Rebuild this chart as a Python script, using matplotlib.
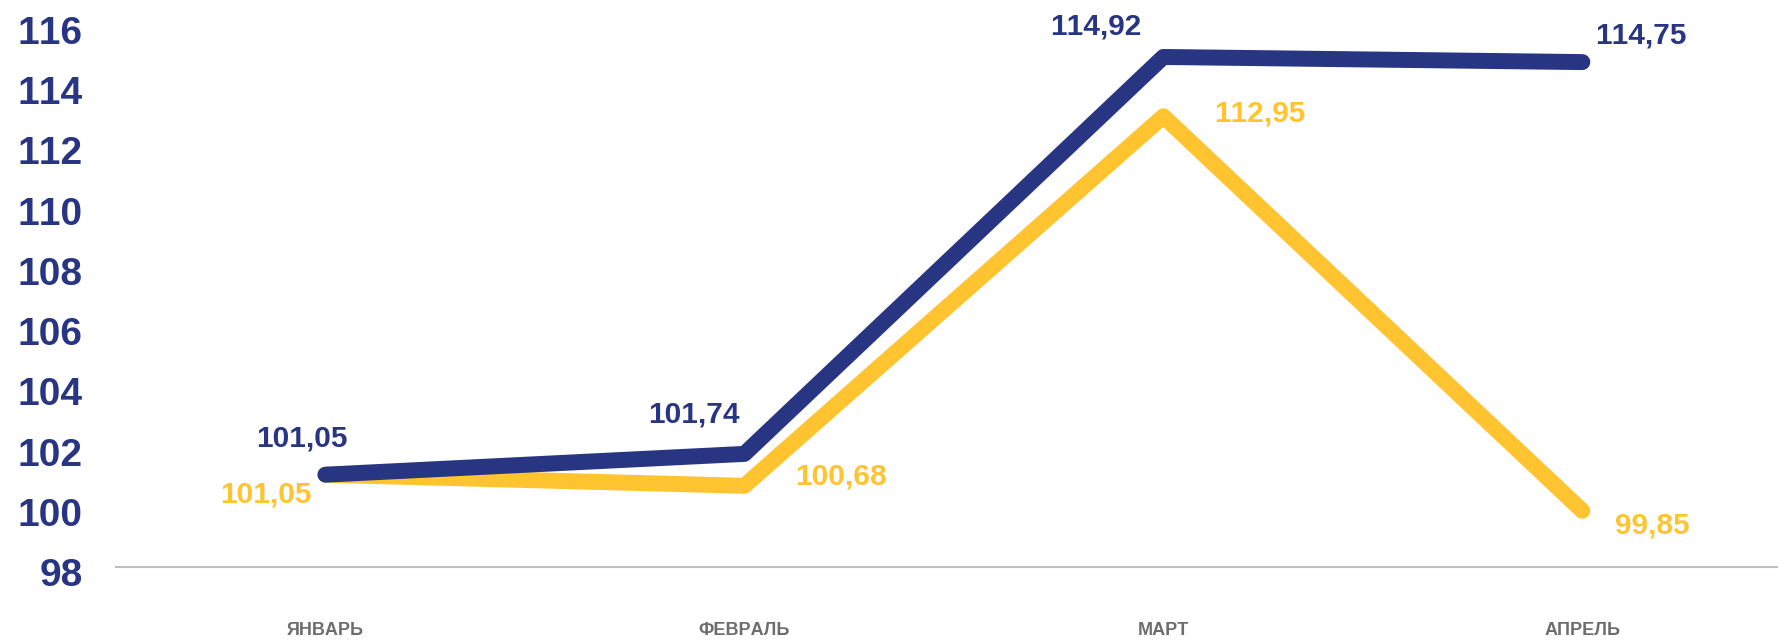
import matplotlib
matplotlib.use("Agg")
import matplotlib.pyplot as plt
import matplotlib.transforms as mtransforms

# the reference text has no kerning between digits
plt.rcParams["text.kerning_factor"] = 6

# Monthly index values, two series
months = ["ЯНВАРЬ", "ФЕВРАЛЬ", "МАРТ", "АПРЕЛЬ"]
blue_vals = [101.05, 101.74, 114.92, 114.75]
yellow_vals = [101.05, 100.68, 112.95, 99.85]
y_ticks = [98, 100, 102, 104, 106, 108, 110, 112, 114, 116]

navy = "#283583"
yellow = "#FFC430"

fig = plt.figure(figsize=(17.78, 6.4), dpi=100)
ax = fig.add_axes([0.0652, 0.1148, 0.9348, 0.847])

x = range(len(months))
ax.plot(x, yellow_vals, color=yellow, lw=11.5, solid_capstyle="round", solid_joinstyle="round")
ax.plot(x, blue_vals, color=navy, lw=11.5, solid_capstyle="round", solid_joinstyle="round")

# label offsets in pixels (dx, dy)
blue_off = [(-24, 36), (-51, 39), (-68, 30), (59, 27)]
yellow_off = [(-60, -20), (97, 9), (96, 3), (70, -15)]

label_font = dict(family="Liberation Sans", fontweight="bold", fontsize=21.5)
for i, v in enumerate(blue_vals):
    ax.annotate(f"{v:.2f}".replace(".", ","), (i, v), xytext=blue_off[i], textcoords="offset pixels",
                ha="center", va="center", color=navy, **label_font)
for i, v in enumerate(yellow_vals):
    ax.annotate(f"{v:.2f}".replace(".", ","), (i, v), xytext=yellow_off[i], textcoords="offset pixels",
                ha="center", va="center", color=yellow, **label_font)

ax.set_xlim(-0.5, 3.467)
ax.set_ylim(98, 116)
ax.set_xticks(list(x))
ax.set_xticklabels(months, fontfamily="Liberation Sans", fontweight="bold", fontsize=13, color="#6d6d6d")
ax.set_yticks(y_ticks)
ax.set_yticklabels([str(t) for t in y_ticks], fontfamily="Liberation Sans", fontweight="bold", fontsize=28, color=navy)
ax.tick_params(axis="x", length=0, pad=40)
ax.tick_params(axis="y", length=0, pad=24)

# y labels sit a few pixels below their values in the reference
shift = mtransforms.ScaledTranslation(0, -4 / 72, fig.dpi_scale_trans)
for lbl in ax.get_yticklabels():
    lbl.set_transform(lbl.get_transform() + shift)

for s in ["top", "right", "left"]:
    ax.spines[s].set_visible(False)
ax.spines["bottom"].set_color("#c0c0c0")
ax.spines["bottom"].set_linewidth(1.5)

fig.savefig("out.png", dpi=100)
